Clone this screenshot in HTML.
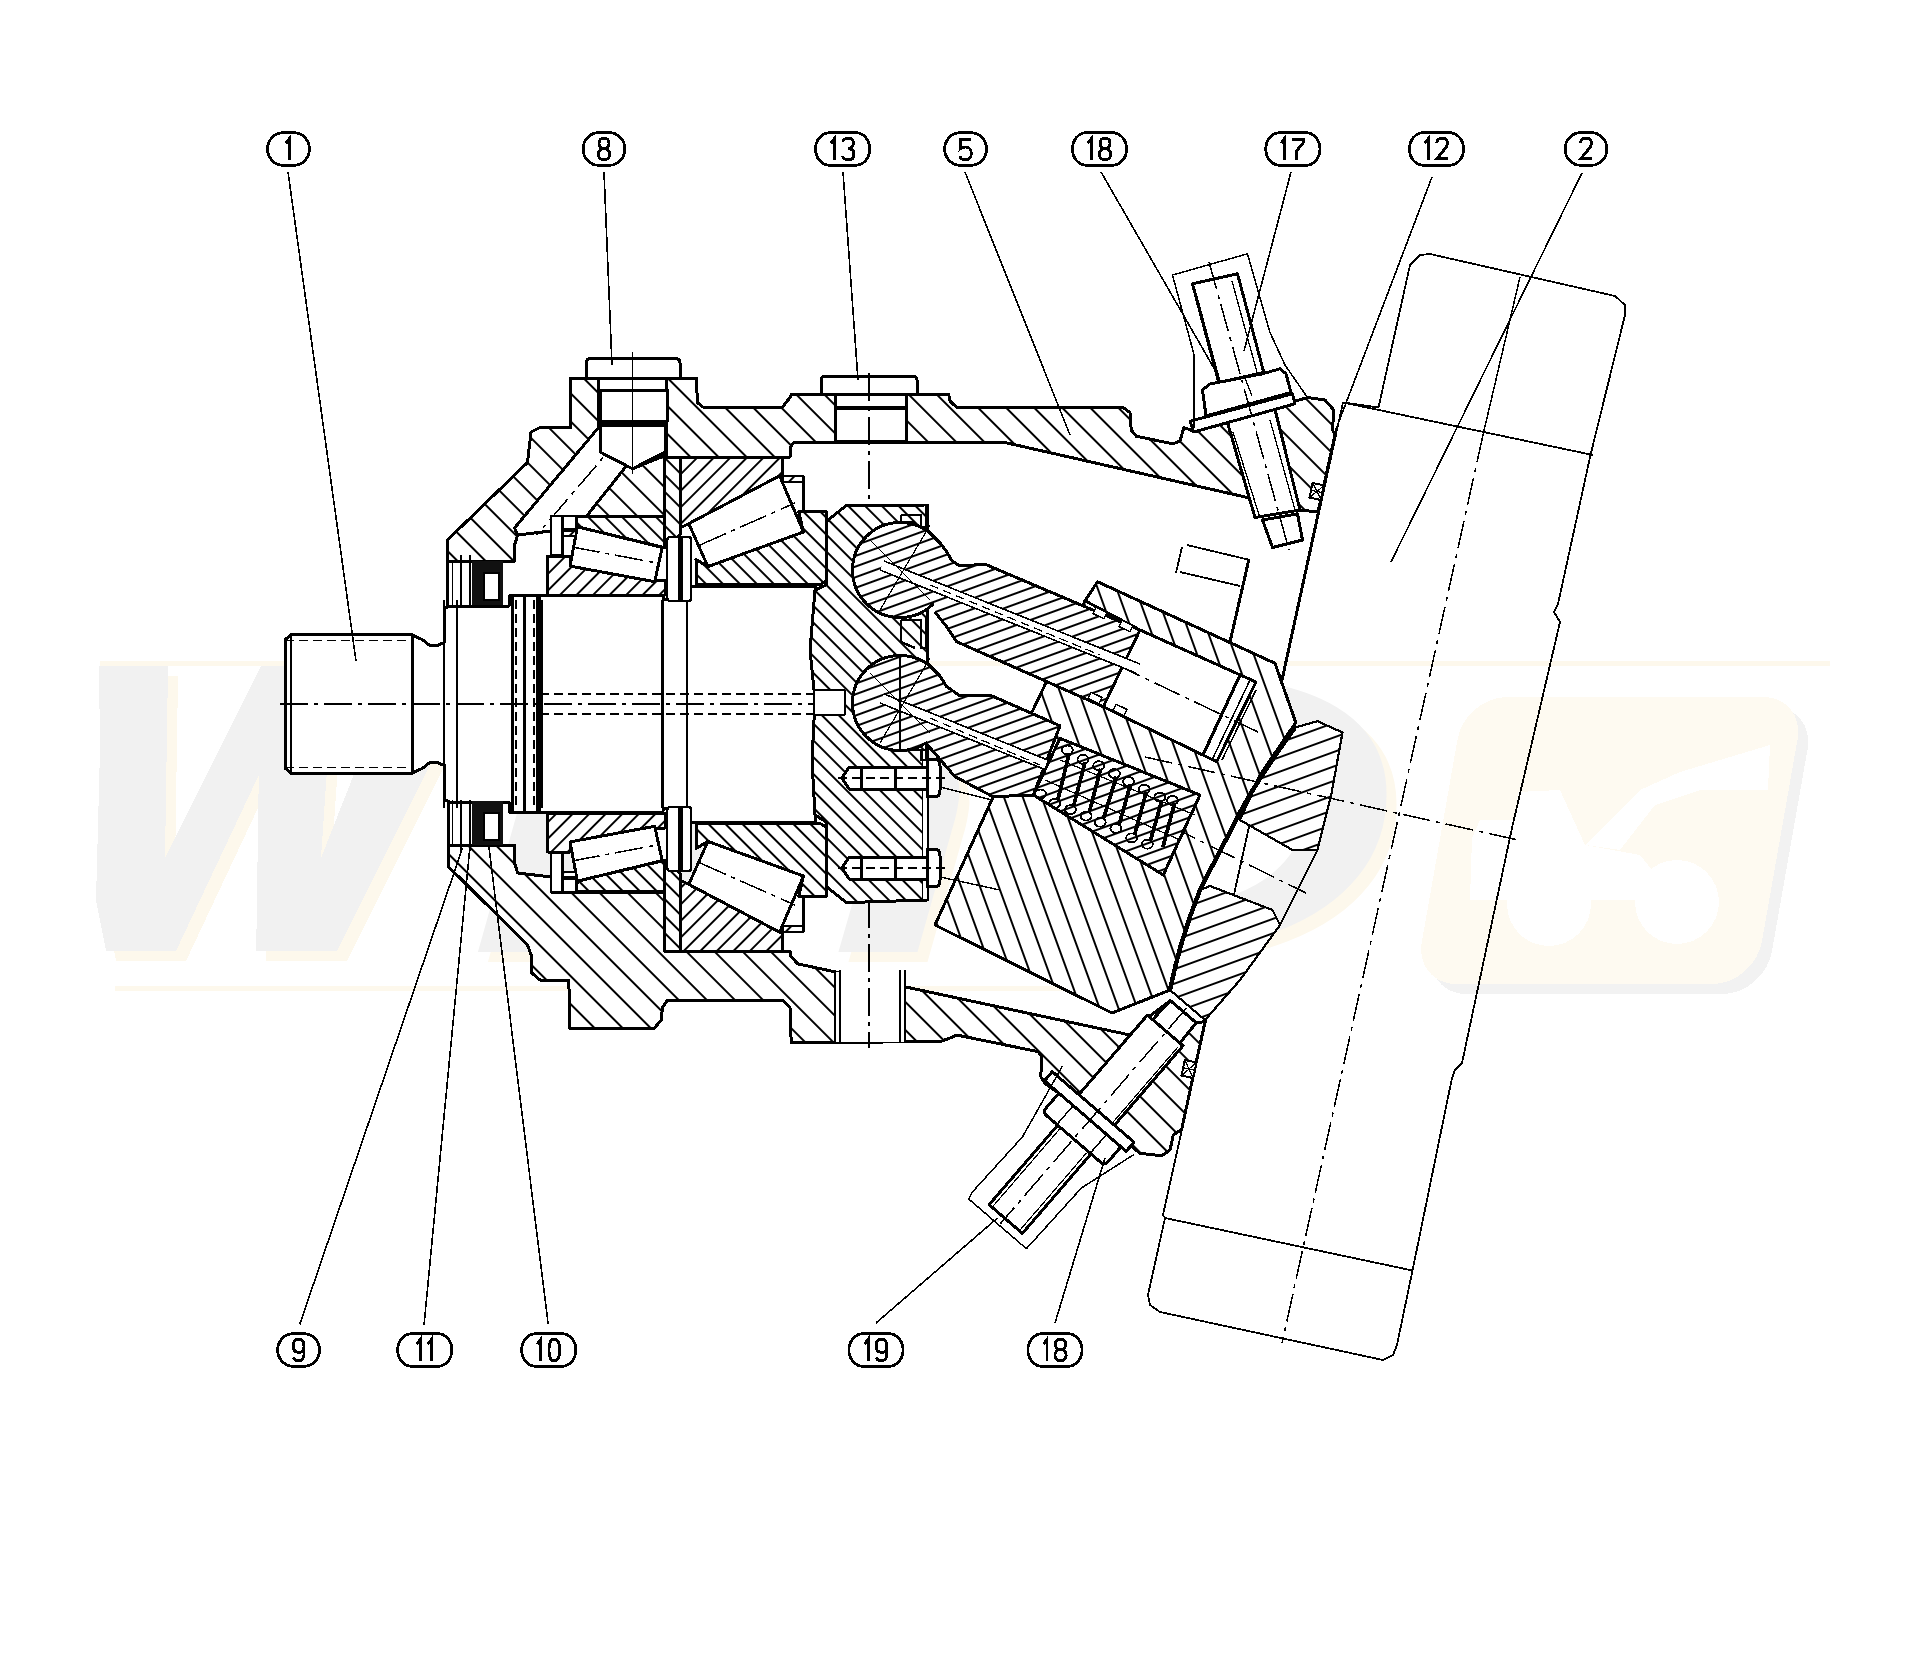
<!DOCTYPE html><html><head><meta charset="utf-8"><style>
html,body{margin:0;padding:0;background:#fff;}
svg{display:block;}
</style></head><body>
<svg width="1925" height="1656" viewBox="0 0 1925 1656" shape-rendering="crispEdges">
<defs>
<pattern id="hb" patternUnits="userSpaceOnUse" x="16.17" width="19.85" height="19.85" patternTransform="rotate(-45)"><rect width="19.85" height="19.85" fill="#fff"/><rect x="9.25" y="-1" width="1.35" height="21.85" fill="#000"/></pattern>
<pattern id="hbB" patternUnits="userSpaceOnUse" x="1.14" width="19.85" height="19.85" patternTransform="rotate(-45)"><rect width="19.85" height="19.85" fill="#fff"/><rect x="9.25" y="-1" width="1.35" height="21.85" fill="#000"/></pattern>
<pattern id="hs" patternUnits="userSpaceOnUse" x="3.5" width="11.7" height="11.7" patternTransform="rotate(45)"><rect width="11.7" height="11.7" fill="#fff"/><rect x="5.17" y="-1" width="1.35" height="13.7" fill="#000"/></pattern>
<pattern id="hs2" patternUnits="userSpaceOnUse" x="8.3" width="12.0" height="12.0" patternTransform="rotate(-45)"><rect width="12.0" height="12.0" fill="#fff"/><rect x="5.33" y="-1" width="1.35" height="14.0" fill="#000"/></pattern>
<pattern id="hcb" patternUnits="userSpaceOnUse" x="6.24" width="17.72" height="17.72" patternTransform="rotate(-20)"><rect width="17.72" height="17.72" fill="#fff"/><rect x="8.18" y="-1" width="1.35" height="19.72" fill="#000"/></pattern>
<pattern id="hp" patternUnits="userSpaceOnUse" x="0" width="10" height="10" patternTransform="rotate(70)"><rect width="10" height="10" fill="#fff"/><rect x="4.33" y="-1" width="1.35" height="12" fill="#000"/></pattern>
<pattern id="hpp" patternUnits="userSpaceOnUse" x="0" width="13.6" height="13.6" patternTransform="rotate(70)"><rect width="13.6" height="13.6" fill="#fff"/><rect x="6.12" y="-1" width="1.35" height="15.6" fill="#000"/></pattern>
<pattern id="hf" patternUnits="userSpaceOnUse" x="9.97" width="11.9" height="11.9" patternTransform="rotate(-45)"><rect width="11.9" height="11.9" fill="#fff"/><rect x="5.28" y="-1" width="1.35" height="13.9" fill="#000"/></pattern>
</defs>
<rect width="1925" height="1656" fill="#fff"/>
<g>
<line x1="100" y1="663" x2="1830" y2="663" stroke="#fdf8ec" stroke-width="5"/>
<line x1="115" y1="988" x2="1180" y2="988" stroke="#fdf8ec" stroke-width="5"/>
<polygon points="109.0,676.0 178.0,676.0 175.0,868.0 271.0,676.0 344.0,676.0 331.0,868.0 406.5,676.0 489.6,676.0 346.8,961.0 266.2,961.0 268.8,785.0 186.0,961.0 116.0,961.0 106.0,910.0 110.0,760.0" fill="#fdf8ec"/>
<polygon points="99.0,666.0 168.0,666.0 165.0,858.0 261.0,666.0 334.0,666.0 321.0,858.0 396.5,666.0 479.6,666.0 336.8,951.0 256.2,951.0 258.8,775.0 176.0,951.0 106.0,951.0 96.0,900.0 100.0,750.0" fill="#f1f1f1"/>
<text x="478" y="962" font-family="Liberation Sans" font-weight="bold" font-style="italic" font-size="400" fill="#fdf8ec" textLength="935" lengthAdjust="spacingAndGlyphs">inD</text>
<text x="468" y="952" font-family="Liberation Sans" font-weight="bold" font-style="italic" font-size="400" fill="#f1f1f1" textLength="935" lengthAdjust="spacingAndGlyphs">inD</text>
<rect x="1475" y="707" width="340" height="287" rx="42" fill="#f2f2f2" transform="translate(0,707) skewX(-10) translate(0,-707)"/>
<rect x="1465" y="697" width="340" height="287" rx="42" fill="#fefaf1" transform="translate(0,697) skewX(-10) translate(0,-697)"/>
<g fill="#fff">
<circle cx="1549" cy="904" r="42"/><circle cx="1677" cy="902" r="42"/>
<polygon points="1472,838 1480,820 1515,820 1518,792 1560,790 1585,845 1640,855 1660,880 1640,900 1470,900"/>
<polygon points="1585,845 1640,790 1680,772 1770,745 1768,790 1700,790 1655,805 1620,850"/>
</g>
</g>
<polygon points="1343.0,402.5 1378.5,407.5 1410.0,265.0 1420.0,255.0 1430.0,254.0 1615.0,296.0 1625.0,305.0 1625.0,315.0 1590.5,455.0 1558.0,604.0 1554.0,612.0 1560.0,622.0 1512.0,828.0 1462.0,1063.0 1455.0,1070.0 1452.0,1078.0 1412.5,1270.5 1397.0,1345.0 1393.0,1355.0 1383.0,1360.0 1160.0,1312.0 1150.0,1305.0 1148.0,1295.0 1165.0,1218.0 1163.0,1215.0" fill="none" stroke="#000" stroke-width="1.8" stroke-linejoin="round" />
<line x1="1343.0" y1="402.5" x2="1593.0" y2="455.0" stroke="#000" stroke-width="1.8" />
<line x1="1165.0" y1="1218.0" x2="1412.5" y2="1270.5" stroke="#000" stroke-width="1.8" />
<line x1="1520.0" y1="277.0" x2="1483.0" y2="435.0" stroke="#000" stroke-width="1.5" />
<line x1="1483.0" y1="435.0" x2="1282.0" y2="1343.0" stroke="#000" stroke-width="1.5" stroke-dasharray="28,6,4,6"/>
<polygon points="447.5,561.0 447.5,540.0 527.5,462.5 531.0,432.0 540.0,427.5 570.8,427.5 570.8,378.0 696.2,378.0 697.5,402.5 702.5,407.0 782.5,407.0 790.0,397.5 791.2,394.5 948.8,394.5 950.0,401.0 956.2,407.0 1122.5,407.0 1130.0,412.5 1131.2,430.0 1136.2,436.2 1172.5,443.8 1180.0,441.2 1183.8,427.5 1193.8,431.2 1307.5,397.5 1325.0,400.0 1333.8,410.0 1332.5,430.0 1335.0,435.0 1318.0,512.0 1300.0,510.0 1247.5,497.5 1005.0,442.5 793.8,442.5 790.0,447.5 790.0,457.0 664.0,457.0 664.0,516.6 551.0,516.6 551.0,531.0 517.7,535.0 514.5,545.0 514.5,561.0" fill="url(#hb)" stroke="#000" stroke-width="3.0" stroke-linejoin="round" />
<polygon points="448.8,845.0 448.8,867.0 527.5,945.0 531.2,955.0 531.2,972.5 540.0,980.0 568.8,980.0 570.0,1028.8 653.8,1028.8 661.2,1020.0 662.5,1007.5 667.5,1000.0 782.5,1000.0 790.0,1007.5 791.2,1042.5 940.0,1041.7 950.0,1038.0 956.7,1035.0 1038.3,1051.7 1041.7,1056.7 1040.8,1076.7 1045.0,1083.3 1130.0,1145.0 1140.0,1153.3 1161.7,1155.8 1170.0,1150.0 1173.3,1135.0 1181.7,1129.2 1205.0,1021.7 1196.0,1022.5 1170.0,1000.8 1145.8,1019.2 1130.0,1035.0 797.5,963.8 790.0,955.0 790.0,951.0 664.0,951.0 664.0,892.0 551.0,892.0 551.0,877.0 517.7,873.0 514.5,863.0 514.5,845.0" fill="url(#hbB)" stroke="#000" stroke-width="3.0" stroke-linejoin="round" />
<polygon points="598.8,378.0 666.2,378.0 666.2,455.0 632.5,468.8 598.8,452.0" fill="#fff" stroke="#000" stroke-width="3.0" stroke-linejoin="round" />
<polygon points="598.7,427.3 625.7,466.8 586.2,516.6 551.0,516.6 551.0,531.0 517.7,535.0 514.5,528.0" fill="#fff" stroke="#000" stroke-width="3.0" stroke-linejoin="round" />
<line x1="625.0" y1="432.0" x2="537.0" y2="535.0" stroke="#000" stroke-width="1.5" stroke-dasharray="28,6,4,6"/>
<path d="M586.25,378 L586.25,363 Q586.25,358.75 590,358.75 L676,358.75 Q680,358.75 680,363 L680,378 Z" fill="#fff" stroke="#000" stroke-width="3.0" stroke-linejoin="round" />
<polygon points="600.0,390.0 667.5,390.0 667.5,421.0 600.0,421.0" fill="#fff" stroke="#000" stroke-width="3.0" stroke-linejoin="round" />
<line x1="600.0" y1="423.0" x2="667.5" y2="423.0" stroke="#000" stroke-width="4" />
<polygon points="600.0,425.0 665.0,425.0 665.0,452.0 632.5,468.8 600.0,452.0" fill="#fff" stroke="#000" stroke-width="3.0" stroke-linejoin="round" />
<line x1="632.5" y1="352.0" x2="632.5" y2="474.0" stroke="#000" stroke-width="1.5" />
<polygon points="835.0,394.5 906.2,394.5 906.2,441.2 835.0,441.2" fill="#fff" stroke="#000" stroke-width="3.0" stroke-linejoin="round" />
<path d="M821.25,394.5 L821.25,380 Q821.25,376.25 825,376.25 L913,376.25 Q917,376.25 917,380 L917,394.5 Z" fill="#fff" stroke="#000" stroke-width="3.0" stroke-linejoin="round" />
<line x1="835.0" y1="407.5" x2="906.2" y2="407.5" stroke="#000" stroke-width="4" />
<line x1="869.2" y1="372.5" x2="869.2" y2="505.0" stroke="#000" stroke-width="1.5" stroke-dasharray="28,6,4,6"/>
<rect x="836" y="972" width="68" height="70" fill="#fff"/>
<line x1="835.0" y1="970.0" x2="835.0" y2="1042.5" stroke="#000" stroke-width="1.8" />
<line x1="840.0" y1="970.0" x2="840.0" y2="1042.5" stroke="#000" stroke-width="1.8" />
<line x1="900.0" y1="970.0" x2="900.0" y2="1042.5" stroke="#000" stroke-width="1.8" />
<line x1="905.0" y1="970.0" x2="905.0" y2="1042.5" stroke="#000" stroke-width="1.8" />
<line x1="869.2" y1="900.0" x2="869.2" y2="1048.0" stroke="#000" stroke-width="1.5" stroke-dasharray="28,6,4,6"/>
<polygon points="285.0,704.0 285.0,640.0 291.0,634.5 412.5,635.0 423.0,640.0 429.0,645.0 437.0,645.5 444.3,642.6 444.3,609.0 449.0,606.0 509.0,606.0 510.0,595.0 662.5,595.5 664.0,599.5 686.7,599.5 686.7,586.0 815.0,586.0 815.0,704.0 815.0,704.0 815.0,822.0 686.7,822.0 686.7,808.5 664.0,808.5 662.5,812.5 510.0,813.0 509.0,802.0 449.0,802.0 444.3,799.0 444.3,765.4 437.0,762.5 429.0,763.0 423.0,768.0 412.5,773.0 291.0,773.5 285.0,768.0 285.0,704.0" fill="#fff" stroke="#000" stroke-width="3.0" stroke-linejoin="round" />
<line x1="291.0" y1="634.5" x2="291.0" y2="773.5" stroke="#000" stroke-width="2.2" />
<line x1="412.5" y1="634.5" x2="412.5" y2="773.5" stroke="#000" stroke-width="2.2" />
<line x1="444.3" y1="600.0" x2="444.3" y2="808.0" stroke="#000" stroke-width="2.2" />
<line x1="457.2" y1="600.0" x2="457.2" y2="808.0" stroke="#000" stroke-width="2.2" />
<line x1="541.7" y1="600.0" x2="541.7" y2="808.0" stroke="#000" stroke-width="2.2" />
<line x1="662.5" y1="600.0" x2="662.5" y2="808.0" stroke="#000" stroke-width="2.2" />
<line x1="686.7" y1="600.0" x2="686.7" y2="808.0" stroke="#000" stroke-width="2.2" />
<line x1="815.0" y1="600.0" x2="815.0" y2="808.0" stroke="#000" stroke-width="2.2" />
<line x1="285.0" y1="640.5" x2="412.5" y2="640.5" stroke="#000" stroke-width="1.5" stroke-dasharray="9,5"/>
<line x1="285.0" y1="767.5" x2="412.5" y2="767.5" stroke="#000" stroke-width="1.5" stroke-dasharray="9,5"/>
<line x1="280.0" y1="704.0" x2="820.0" y2="704.0" stroke="#000" stroke-width="1.5" stroke-dasharray="28,6,4,6"/>
<line x1="540.0" y1="694.0" x2="845.0" y2="694.0" stroke="#000" stroke-width="1.5" stroke-dasharray="9,5"/>
<line x1="540.0" y1="714.0" x2="845.0" y2="714.0" stroke="#000" stroke-width="1.5" stroke-dasharray="9,5"/>
<line x1="512.5" y1="596.0" x2="512.5" y2="812.0" stroke="#000" stroke-width="3.4" />
<line x1="524.5" y1="596.0" x2="524.5" y2="812.0" stroke="#000" stroke-width="2.6" />
<line x1="538.5" y1="596.0" x2="538.5" y2="812.0" stroke="#000" stroke-width="4.2" />
<line x1="516.0" y1="600.0" x2="516.0" y2="808.0" stroke="#000" stroke-width="1.2" stroke-dasharray="9,5"/>
<line x1="534.0" y1="600.0" x2="534.0" y2="808.0" stroke="#000" stroke-width="1.2" stroke-dasharray="9,5"/>
<rect x="472" y="561" width="31" height="44" fill="#111"/>
<rect x="484" y="573" width="15" height="27" fill="#fff" stroke="#000" stroke-width="1.5"/>
<line x1="452.5" y1="561.0" x2="452.5" y2="606.0" stroke="#000" stroke-width="1.8" />
<line x1="461.2" y1="555.0" x2="461.2" y2="606.0" stroke="#000" stroke-width="1.8" />
<line x1="470.0" y1="555.0" x2="470.0" y2="606.0" stroke="#000" stroke-width="1.8" />
<rect x="472" y="801" width="31" height="44" fill="#111"/>
<rect x="484" y="813" width="15" height="27" fill="#fff" stroke="#000" stroke-width="1.5"/>
<line x1="452.5" y1="800.0" x2="452.5" y2="845.0" stroke="#000" stroke-width="1.8" />
<line x1="461.2" y1="800.0" x2="461.2" y2="851.0" stroke="#000" stroke-width="1.8" />
<line x1="470.0" y1="800.0" x2="470.0" y2="851.0" stroke="#000" stroke-width="1.8" />
<line x1="447.5" y1="540.0" x2="447.5" y2="607.0" stroke="#000" stroke-width="3.0" />
<line x1="448.8" y1="800.0" x2="448.8" y2="867.0" stroke="#000" stroke-width="3.0" />
<polygon points="576.0,516.6 664.0,516.6 664.0,547.5 577.4,526.8" fill="url(#hs2)" stroke="#000" stroke-width="3.0" stroke-linejoin="round" />
<polygon points="576.0,891.4 664.0,891.4 664.0,860.5 577.4,881.2" fill="url(#hs2)" stroke="#000" stroke-width="3.0" stroke-linejoin="round" />
<polygon points="547.5,556.0 570.0,556.0 570.0,566.0 654.0,580.0 665.0,580.0 665.0,595.0 547.5,595.0" fill="url(#hs)" stroke="#000" stroke-width="3.0" stroke-linejoin="round" />
<polygon points="547.5,852.0 570.0,852.0 570.0,842.0 654.0,828.0 665.0,828.0 665.0,813.0 547.5,813.0" fill="url(#hs)" stroke="#000" stroke-width="3.0" stroke-linejoin="round" />
<polygon points="577.4,526.8 662.2,547.4 654.7,581.7 570.0,566.1" fill="#fff" stroke="#000" stroke-width="3.0" stroke-linejoin="round" />
<polygon points="577.4,881.2 662.2,860.6 654.7,826.3 570.0,841.9" fill="#fff" stroke="#000" stroke-width="3.0" stroke-linejoin="round" />
<line x1="572.0" y1="547.0" x2="657.0" y2="563.0" stroke="#000" stroke-width="1.5" stroke-dasharray="28,6,4,6"/>
<line x1="572.0" y1="861.0" x2="657.0" y2="845.0" stroke="#000" stroke-width="1.5" stroke-dasharray="28,6,4,6"/>
<polygon points="664.0,457.0 680.0,457.0 680.0,535.0 664.0,548.0" fill="url(#hs2)" stroke="#000" stroke-width="3.0" stroke-linejoin="round" />
<polygon points="664.0,951.0 680.0,951.0 680.0,873.0 664.0,860.0" fill="url(#hs2)" stroke="#000" stroke-width="3.0" stroke-linejoin="round" />
<polygon points="680.0,457.0 782.5,457.0 782.5,475.8 779.6,475.8 688.8,523.6 680.0,528.0" fill="url(#hs)" stroke="#000" stroke-width="3.0" stroke-linejoin="round" />
<polygon points="680.0,951.0 782.5,951.0 782.5,932.2 779.6,932.2 688.8,884.4 680.0,880.0" fill="url(#hs)" stroke="#000" stroke-width="3.0" stroke-linejoin="round" />
<polygon points="696.0,559.5 707.9,566.6 803.5,532.0 798.7,511.7 826.2,511.7 826.2,581.0 820.0,584.6 696.0,584.6" fill="url(#hs2)" stroke="#000" stroke-width="3.0" stroke-linejoin="round" />
<polygon points="696.0,848.5 707.9,841.4 803.5,876.0 798.7,896.3 826.2,896.3 826.2,827.0 820.0,823.4 696.0,823.4" fill="url(#hs2)" stroke="#000" stroke-width="3.0" stroke-linejoin="round" />
<polygon points="688.8,523.6 779.6,475.8 803.5,532.0 707.9,566.6" fill="#fff" stroke="#000" stroke-width="3.0" stroke-linejoin="round" />
<polygon points="688.8,884.4 779.6,932.2 803.5,876.0 707.9,841.4" fill="#fff" stroke="#000" stroke-width="3.0" stroke-linejoin="round" />
<line x1="700.0" y1="545.0" x2="795.0" y2="503.0" stroke="#000" stroke-width="1.5" stroke-dasharray="28,6,4,6"/>
<line x1="700.0" y1="863.0" x2="795.0" y2="905.0" stroke="#000" stroke-width="1.5" stroke-dasharray="28,6,4,6"/>
<rect x="667.3" y="537" width="23.9" height="64" fill="#fff" stroke="#000" stroke-width="2.2" rx="3"/>
<line x1="680.4" y1="537.0" x2="680.4" y2="601.0" stroke="#000" stroke-width="4.5" />
<rect x="667.3" y="807" width="23.9" height="64" fill="#fff" stroke="#000" stroke-width="2.2" rx="3"/>
<line x1="680.4" y1="807.0" x2="680.4" y2="871.0" stroke="#000" stroke-width="4.5" />
<polygon points="550.6,516.2 562.5,516.2 562.5,554.9 550.6,554.9" fill="#fff" stroke="#000" stroke-width="2.2" stroke-linejoin="round" />
<polygon points="550.6,891.8 562.5,891.8 562.5,853.1 550.6,853.1" fill="#fff" stroke="#000" stroke-width="2.2" stroke-linejoin="round" />
<polygon points="562.5,516.2 576.0,516.2 576.0,529.0 562.5,529.0" fill="#fff" stroke="#000" stroke-width="2.2" stroke-linejoin="round" />
<polygon points="562.5,891.8 576.0,891.8 576.0,879.0 562.5,879.0" fill="#fff" stroke="#000" stroke-width="2.2" stroke-linejoin="round" />
<polygon points="563.0,530.6 576.0,530.6 576.0,536.2 563.0,536.2" fill="url(#hs)" stroke="#000" stroke-width="2" stroke-linejoin="round" />
<polygon points="563.0,877.4 576.0,877.4 576.0,871.8 563.0,871.8" fill="url(#hs)" stroke="#000" stroke-width="2" stroke-linejoin="round" />
<polygon points="782.5,475.8 803.5,475.8 803.5,482.0 782.5,482.0" fill="url(#hs)" stroke="#000" stroke-width="2" stroke-linejoin="round" />
<polygon points="782.5,932.2 803.5,932.2 803.5,926.0 782.5,926.0" fill="url(#hs)" stroke="#000" stroke-width="2" stroke-linejoin="round" />
<line x1="803.5" y1="475.8" x2="803.5" y2="511.7" stroke="#000" stroke-width="2.4" />
<line x1="803.5" y1="932.2" x2="803.5" y2="896.3" stroke="#000" stroke-width="2.4" />
<polygon points="826.2,521.5 846.3,505.4 927.5,505.0 927.5,900.0 846.3,902.6 826.2,886.5 826.2,822.0 815.0,815.0 812.0,760.0 815.0,700.0 810.0,650.0 815.0,590.0 826.2,585.0" fill="url(#hf)" stroke="#000" stroke-width="3.0" stroke-linejoin="round" />
<rect x="815" y="690" width="30" height="25" fill="#fff"/>
<line x1="815.0" y1="690.0" x2="845.0" y2="690.0" stroke="#000" stroke-width="1.8" />
<line x1="815.0" y1="715.0" x2="845.0" y2="715.0" stroke="#000" stroke-width="1.8" />
<line x1="845.0" y1="690.0" x2="845.0" y2="715.0" stroke="#000" stroke-width="1.8" />
<polygon points="922.5,750.0 927.5,750.0 927.5,900.0 922.5,900.0" fill="#fff" stroke="#000" stroke-width="1.8" stroke-linejoin="round" />
<polyline points="901.0,515.0 921.0,515.0 921.0,527.0 926.0,527.0 926.0,506.0" fill="none" stroke="#000" stroke-width="2.4" stroke-linejoin="round" />
<polyline points="901.0,620.0 921.0,620.0 921.0,648.0 926.0,648.0 926.0,616.0" fill="none" stroke="#000" stroke-width="2.4" stroke-linejoin="round" />
<polyline points="906.0,750.0 921.0,750.0 921.0,760.0 926.0,760.0 926.0,745.0" fill="none" stroke="#000" stroke-width="2.4" stroke-linejoin="round" />
<polyline points="901.0,515.0 901.0,522.0 915.0,522.0" fill="none" stroke="#000" stroke-width="2.4" stroke-linejoin="round" />
<polyline points="901.0,620.0 901.0,642.0 915.0,648.0" fill="none" stroke="#000" stroke-width="2.4" stroke-linejoin="round" />
<polygon points="842.0,778.0 849.0,767.0 927.5,767.0 927.5,789.0 849.0,789.0" fill="#fff" stroke="#000" stroke-width="3.0" stroke-linejoin="round" />
<path d="M927.5,759.5 L936,759.5 Q940,759.5 940,766 L940,790 Q940,796.5 936,796.5 L927.5,796.5 Z" fill="#fff" stroke="#000" stroke-width="3.0" stroke-linejoin="round" />
<line x1="861.0" y1="767.0" x2="861.0" y2="789.0" stroke="#000" stroke-width="3" />
<line x1="895.0" y1="767.0" x2="895.0" y2="789.0" stroke="#000" stroke-width="3" />
<line x1="838.0" y1="778.0" x2="945.0" y2="778.0" stroke="#000" stroke-width="1.5" stroke-dasharray="9,5"/>
<polygon points="842.0,868.0 849.0,857.0 927.5,857.0 927.5,879.0 849.0,879.0" fill="#fff" stroke="#000" stroke-width="3.0" stroke-linejoin="round" />
<path d="M927.5,849.5 L936,849.5 Q940,849.5 940,856 L940,880 Q940,886.5 936,886.5 L927.5,886.5 Z" fill="#fff" stroke="#000" stroke-width="3.0" stroke-linejoin="round" />
<line x1="861.0" y1="857.0" x2="861.0" y2="879.0" stroke="#000" stroke-width="3" />
<line x1="895.0" y1="857.0" x2="895.0" y2="879.0" stroke="#000" stroke-width="3" />
<line x1="838.0" y1="868.0" x2="945.0" y2="868.0" stroke="#000" stroke-width="1.5" stroke-dasharray="9,5"/>
<polygon points="1097.5,581.7 1275.0,663.3 1295.8,722.5 1262.0,772.0 1235.0,822.5 1200.0,890.0 1180.0,945.0 1170.0,990.0 1112.0,1013.0 935.0,925.0 992.5,798.3 1033.0,710.0 1085.0,600.8" fill="url(#hcb)" stroke="#000" stroke-width="3.0" stroke-linejoin="round" />
<polygon points="1140.0,630.0 1256.0,682.0 1216.7,761.7 1103.3,706.7" fill="#fff" stroke="#000" stroke-width="3.0" stroke-linejoin="round" />
<line x1="1240.0" y1="675.0" x2="1203.0" y2="755.0" stroke="#000" stroke-width="3.2" />
<line x1="1250.0" y1="680.0" x2="1213.0" y2="758.0" stroke="#000" stroke-width="1.5" />
<line x1="1256.0" y1="690.0" x2="1222.0" y2="760.0" stroke="#000" stroke-width="1.5" />
<line x1="1085.0" y1="600.8" x2="1140.0" y2="630.0" stroke="#000" stroke-width="3.0" />
<polygon points="1295.0,727.5 1317.5,721.2 1342.5,732.5 1331.2,795.0 1317.5,850.0 1292.5,850.0 1240.0,820.0 1262.0,772.0" fill="url(#hpp)" stroke="#000" stroke-width="2.2" stroke-linejoin="round" />
<polygon points="1210.0,886.0 1272.5,910.0 1280.0,925.0 1240.0,980.0 1205.0,1020.0 1170.0,990.0 1180.0,945.0 1200.0,890.0" fill="url(#hpp)" stroke="#000" stroke-width="2.2" stroke-linejoin="round" />
<line x1="1317.5" y1="850.0" x2="1280.0" y2="925.0" stroke="#000" stroke-width="2.0" />
<path d="M1295,727.5 Q1250,790 1235,822.5 Q1210,870 1200,890 Q1180,940 1170,990" fill="none" stroke="#000" stroke-width="4.5" stroke-linejoin="round" />
<line x1="1075.0" y1="645.0" x2="1258.0" y2="732.0" stroke="#000" stroke-width="1.5" stroke-dasharray="28,6,4,6"/>
<line x1="1145.0" y1="757.0" x2="1518.0" y2="840.0" stroke="#000" stroke-width="1.5" stroke-dasharray="28,6,4,6"/>
<line x1="1170.0" y1="826.0" x2="1306.0" y2="893.0" stroke="#000" stroke-width="1.5" stroke-dasharray="28,6,4,6"/>
<circle cx="900" cy="570" r="47.5" fill="url(#hp)" stroke="#000" stroke-width="3"/>
<polygon points="928.0,531.0 940.0,543.0 946.7,551.7 952.0,561.0 960.0,566.0 985.0,564.2 1140.0,630.0 1103.3,706.7 956.7,641.7 946.7,626.7 935.0,612.0" fill="url(#hp)" stroke="#000" stroke-width="0" stroke-linejoin="round" />
<polyline points="928.0,531.0 940.0,543.0 946.7,551.7 952.0,561.0 960.0,566.0 985.0,564.2 1140.0,630.0 1103.3,706.7 956.7,641.7 946.7,626.7 935.0,612.0" fill="none" stroke="#000" stroke-width="3.0" stroke-linejoin="round" />
<rect x="886" y="549" width="50" height="45" fill="url(#hp)"/>
<polygon points="884.0,561.0 1140.0,664.0 1136.0,673.0 880.0,570.0" fill="#fff" stroke="#000" stroke-width="0" stroke-linejoin="round" />
<line x1="884.0" y1="561.0" x2="1140.0" y2="664.0" stroke="#000" stroke-width="1.6" />
<line x1="880.0" y1="570.0" x2="1136.0" y2="673.0" stroke="#000" stroke-width="1.6" />
<line x1="930.0" y1="585.0" x2="1100.0" y2="655.0" stroke="#000" stroke-width="1.2" stroke-dasharray="9,5"/>
<line x1="870.0" y1="540.0" x2="930.0" y2="600.0" stroke="#000" stroke-width="1.2" />
<line x1="930.0" y1="525.0" x2="880.0" y2="610.0" stroke="#000" stroke-width="1.2" />
<circle cx="900" cy="703" r="47.5" fill="url(#hp)" stroke="#000" stroke-width="3"/>
<polygon points="928.0,664.0 940.0,676.0 946.7,686.7 960.0,695.8 991.7,695.8 1060.0,725.8 1033.3,795.0 993.0,796.7 955.0,776.7 925.0,742.0" fill="url(#hp)" stroke="#000" stroke-width="0" stroke-linejoin="round" />
<polyline points="928.0,664.0 940.0,676.0 946.7,686.7 960.0,695.8 991.7,695.8 1060.0,725.8 1033.3,795.0 993.0,796.7 955.0,776.7 925.0,742.0" fill="none" stroke="#000" stroke-width="3.0" stroke-linejoin="round" />
<rect x="886" y="682" width="50" height="45" fill="url(#hp)"/>
<polygon points="884.0,694.0 1060.0,765.0 1056.0,774.0 880.0,703.0" fill="#fff" stroke="#000" stroke-width="0" stroke-linejoin="round" />
<line x1="884.0" y1="694.0" x2="1060.0" y2="765.0" stroke="#000" stroke-width="1.6" />
<line x1="880.0" y1="703.0" x2="1056.0" y2="774.0" stroke="#000" stroke-width="1.6" />
<line x1="930.0" y1="718.0" x2="1040.0" y2="765.0" stroke="#000" stroke-width="1.2" stroke-dasharray="9,5"/>
<line x1="870.0" y1="673.0" x2="930.0" y2="733.0" stroke="#000" stroke-width="1.2" />
<line x1="930.0" y1="658.0" x2="880.0" y2="743.0" stroke="#000" stroke-width="1.2" />
<line x1="900.0" y1="655.0" x2="900.0" y2="750.0" stroke="#000" stroke-width="1.2" />
<polygon points="1060.0,738.3 1200.0,795.0 1163.3,875.0 1033.3,795.0" fill="url(#hp)" stroke="#000" stroke-width="3.0" stroke-linejoin="round" />
<ellipse cx="1067.3" cy="750.0" rx="5.5" ry="4.5" fill="none" stroke="#000" stroke-width="1.8"/>
<ellipse cx="1083.0" cy="759.4" rx="5.5" ry="4.5" fill="none" stroke="#000" stroke-width="1.8"/>
<ellipse cx="1098.7" cy="765.7" rx="5.5" ry="4.5" fill="none" stroke="#000" stroke-width="1.8"/>
<ellipse cx="1114.4" cy="773.6" rx="5.5" ry="4.5" fill="none" stroke="#000" stroke-width="1.8"/>
<ellipse cx="1128.5" cy="781.4" rx="5.5" ry="4.5" fill="none" stroke="#000" stroke-width="1.8"/>
<ellipse cx="1144.2" cy="789.3" rx="5.5" ry="4.5" fill="none" stroke="#000" stroke-width="1.8"/>
<ellipse cx="1159.9" cy="797.1" rx="5.5" ry="4.5" fill="none" stroke="#000" stroke-width="1.8"/>
<ellipse cx="1172.5" cy="800.3" rx="5.5" ry="4.5" fill="none" stroke="#000" stroke-width="1.8"/>
<ellipse cx="1040.6" cy="794.0" rx="5.5" ry="4.5" fill="none" stroke="#000" stroke-width="1.8"/>
<ellipse cx="1054.7" cy="803.4" rx="5.5" ry="4.5" fill="none" stroke="#000" stroke-width="1.8"/>
<ellipse cx="1070.4" cy="809.7" rx="5.5" ry="4.5" fill="none" stroke="#000" stroke-width="1.8"/>
<ellipse cx="1086.1" cy="816.0" rx="5.5" ry="4.5" fill="none" stroke="#000" stroke-width="1.8"/>
<ellipse cx="1100.2" cy="822.2" rx="5.5" ry="4.5" fill="none" stroke="#000" stroke-width="1.8"/>
<ellipse cx="1115.9" cy="828.5" rx="5.5" ry="4.5" fill="none" stroke="#000" stroke-width="1.8"/>
<ellipse cx="1131.6" cy="837.9" rx="5.5" ry="4.5" fill="none" stroke="#000" stroke-width="1.8"/>
<ellipse cx="1147.3" cy="844.2" rx="5.5" ry="4.5" fill="none" stroke="#000" stroke-width="1.8"/>
<line x1="1069.3" y1="753.0" x2="1057.7" y2="800.4" stroke="#000" stroke-width="3.8" />
<line x1="1085.0" y1="762.4" x2="1073.4" y2="806.7" stroke="#000" stroke-width="3.8" />
<line x1="1100.7" y1="768.7" x2="1089.1" y2="813.0" stroke="#000" stroke-width="3.8" />
<line x1="1116.4" y1="776.6" x2="1103.2" y2="819.2" stroke="#000" stroke-width="3.8" />
<line x1="1130.5" y1="784.4" x2="1118.9" y2="825.5" stroke="#000" stroke-width="3.8" />
<line x1="1146.2" y1="792.3" x2="1134.6" y2="834.9" stroke="#000" stroke-width="3.8" />
<line x1="1161.9" y1="800.1" x2="1150.3" y2="841.2" stroke="#000" stroke-width="3.8" />
<line x1="1174.5" y1="803.3" x2="1163.0" y2="847.0" stroke="#000" stroke-width="3.8" />
<line x1="1060.0" y1="760.0" x2="1195.0" y2="815.0" stroke="#000" stroke-width="1.2" />
<line x1="1045.0" y1="780.0" x2="1180.0" y2="840.0" stroke="#000" stroke-width="1.2" />
<line x1="940.0" y1="787.0" x2="992.0" y2="800.0" stroke="#000" stroke-width="1.4" />
<line x1="940.0" y1="877.0" x2="1000.0" y2="890.0" stroke="#000" stroke-width="1.4" />
<rect x="1094" y="609.5" width="12" height="7" fill="#fff" stroke="#000" stroke-width="1.5" transform="rotate(25 1100 613)"/>
<rect x="1120" y="622.5" width="12" height="7" fill="#fff" stroke="#000" stroke-width="1.5" transform="rotate(25 1126 626)"/>
<rect x="1089" y="694.5" width="12" height="7" fill="#fff" stroke="#000" stroke-width="1.5" transform="rotate(25 1095 698)"/>
<rect x="1114" y="706.5" width="12" height="7" fill="#fff" stroke="#000" stroke-width="1.5" transform="rotate(25 1120 710)"/>
<polygon points="1192.5,283.8 1237.5,273.8 1263.8,372.5 1218.8,382.5" fill="#fff" stroke="#000" stroke-width="3.0" stroke-linejoin="round" />
<line x1="1196.0" y1="293.0" x2="1221.0" y2="385.0" stroke="#000" stroke-width="1.3" />
<line x1="1232.0" y1="281.0" x2="1258.0" y2="376.0" stroke="#000" stroke-width="1.3" />
<polygon points="1202.5,390.0 1210.0,384.0 1262.5,373.8 1280.0,368.8 1286.0,373.8 1291.0,392.5 1206.0,416.0" fill="#fff" stroke="#000" stroke-width="3.0" stroke-linejoin="round" />
<line x1="1245.0" y1="378.0" x2="1252.0" y2="396.0" stroke="#000" stroke-width="1.3" />
<polygon points="1190.0,421.2 1292.5,393.8 1295.0,403.8 1193.8,432.0" fill="#fff" stroke="#000" stroke-width="3.0" stroke-linejoin="round" />
<polygon points="1227.5,422.6 1275.0,409.4 1300.0,510.0 1255.0,517.5" fill="#fff" stroke="#000" stroke-width="3.0" stroke-linejoin="round" />
<line x1="1233.0" y1="432.0" x2="1259.0" y2="515.0" stroke="#000" stroke-width="1.3" />
<line x1="1270.0" y1="420.0" x2="1295.0" y2="510.0" stroke="#000" stroke-width="1.3" />
<polygon points="1262.5,520.0 1297.5,513.8 1302.5,540.0 1272.5,547.5" fill="#fff" stroke="#000" stroke-width="3.0" stroke-linejoin="round" />
<line x1="1209.0" y1="262.0" x2="1289.0" y2="550.0" stroke="#000" stroke-width="1.5" stroke-dasharray="28,6,4,6"/>
<polyline points="1193.8,427.5 1193.8,353.8 1172.5,275.0 1247.5,253.8 1270.0,332.5 1285.0,365.0 1307.5,397.5" fill="none" stroke="#000" stroke-width="1.5" stroke-linejoin="round" />
<g transform="rotate(12 1317 491)"><rect x="1311" y="484" width="12" height="15" fill="#fff" stroke="#000" stroke-width="2"/><path d="M1311,484 L1323,499 M1323,484 L1311,499 M1311,491.5 L1323,491.5" stroke="#000" stroke-width="1.2"/></g>
<polygon points="1170.4,1000.6 1196.2,1022.8 1179.9,1043.1 1152.7,1019.6" fill="#fff" stroke="#000" stroke-width="3.0" stroke-linejoin="round" />
<polygon points="1147.4,1015.1 1183.0,1045.8 1114.4,1125.3 1078.8,1094.6" fill="#fff" stroke="#000" stroke-width="3.0" stroke-linejoin="round" />
<line x1="1178.1" y1="1046.8" x2="1112.1" y2="1123.3" stroke="#000" stroke-width="1.2" />
<polygon points="1052.3,1071.7 1134.1,1142.2 1126.2,1151.3 1044.5,1080.8" fill="#fff" stroke="#000" stroke-width="3.0" stroke-linejoin="round" />
<path d="M1058.9,1093.2 L1120.9,1146.8 L1107.9,1161.9 Q1104.6,1165.7 1100.8,1162.4 L1046.3,1115.4 Q1042.5,1112.1 1045.8,1108.3 L1058.9,1093.2 Z" fill="#fff" stroke="#000" stroke-width="3.0" stroke-linejoin="round" />
<line x1="1073.2" y1="1105.6" x2="1056.9" y2="1124.5" stroke="#000" stroke-width="1.5" />
<line x1="1106.6" y1="1134.4" x2="1090.2" y2="1153.3" stroke="#000" stroke-width="1.5" />
<polygon points="1057.7,1125.2 1091.0,1153.9 1022.4,1233.4 989.1,1204.7" fill="#fff" stroke="#000" stroke-width="3.0" stroke-linejoin="round" />
<line x1="1059.4" y1="1129.3" x2="992.1" y2="1207.3" stroke="#000" stroke-width="1.2" />
<line x1="1086.6" y1="1152.8" x2="1019.4" y2="1230.8" stroke="#000" stroke-width="1.2" />
<line x1="1186.6" y1="1007.9" x2="1000.4" y2="1223.7" stroke="#000" stroke-width="1.5" stroke-dasharray="28,6,4,6"/>
<polyline points="1062.5,1066.0 1022.4,1137.0 971.9,1192.5 968.8,1199.1 1026.4,1248.7 1081.4,1188.0 1134.3,1154.3" fill="none" stroke="#000" stroke-width="1.5" stroke-linejoin="round" />
<g transform="rotate(12 1189 1069)"><rect x="1183" y="1061" width="12" height="16" fill="#fff" stroke="#000" stroke-width="2"/><path d="M1183,1061 L1195,1077 M1195,1061 L1183,1077 M1183,1069 L1195,1069" stroke="#000" stroke-width="1.2"/></g>
<polyline points="1182.0,547.0 1176.0,573.0" fill="none" stroke="#000" stroke-width="1.8" stroke-linejoin="round" />
<line x1="1187.0" y1="545.0" x2="1250.0" y2="560.0" stroke="#000" stroke-width="1.8" />
<line x1="1180.0" y1="572.0" x2="1240.0" y2="586.0" stroke="#000" stroke-width="1.8" />
<line x1="1249.0" y1="559.0" x2="1230.0" y2="642.0" stroke="#000" stroke-width="3" />
<line x1="1336.0" y1="432.0" x2="1282.0" y2="680.0" stroke="#000" stroke-width="3" />
<line x1="288.0" y1="172.0" x2="356.0" y2="661.0" stroke="#000" stroke-width="1.6" />
<line x1="604.0" y1="172.0" x2="612.0" y2="365.0" stroke="#000" stroke-width="1.6" />
<line x1="843.0" y1="172.0" x2="858.0" y2="380.0" stroke="#000" stroke-width="1.6" />
<line x1="965.0" y1="172.0" x2="1070.0" y2="435.0" stroke="#000" stroke-width="1.6" />
<line x1="1101.0" y1="172.0" x2="1215.0" y2="370.0" stroke="#000" stroke-width="1.6" />
<line x1="1291.0" y1="172.0" x2="1244.0" y2="351.0" stroke="#000" stroke-width="1.6" />
<line x1="1432.0" y1="177.0" x2="1335.0" y2="432.0" stroke="#000" stroke-width="1.6" />
<line x1="1582.0" y1="173.0" x2="1391.0" y2="562.0" stroke="#000" stroke-width="1.6" />
<line x1="299.7" y1="1324.4" x2="462.5" y2="848.0" stroke="#000" stroke-width="1.6" />
<line x1="424.0" y1="1325.3" x2="470.0" y2="846.0" stroke="#000" stroke-width="1.6" />
<line x1="548.2" y1="1324.4" x2="488.8" y2="846.0" stroke="#000" stroke-width="1.6" />
<line x1="876.0" y1="1323.0" x2="997.5" y2="1218.0" stroke="#000" stroke-width="1.6" />
<line x1="1055.0" y1="1323.0" x2="1105.0" y2="1158.0" stroke="#000" stroke-width="1.6" />
<rect x="267.6" y="132.7" width="41.8" height="32.6" rx="15.5" ry="16.3" fill="#fff" stroke="#000" stroke-width="2.8"/>
<path d="M0,5.2 L3.6,0.3 L3.6,22" transform="translate(286.00,138.00)" fill="none" stroke="#000" stroke-width="2.9" stroke-linecap="butt" stroke-linejoin="miter"/>
<rect x="583.1" y="132.7" width="41.8" height="32.6" rx="15.5" ry="16.3" fill="#fff" stroke="#000" stroke-width="2.8"/>
<path d="M6,10.6 C2.8,10.6 1,8.8 1,5.4 C1,2.2 3,0.2 6,0.2 C9,0.2 11,2.2 11,5.4 C11,8.8 9.2,10.6 6,10.6 C2.4,10.6 0.4,13 0.4,16.2 C0.4,19.6 2.6,21.8 6,21.8 C9.4,21.8 11.6,19.6 11.6,16.2 C11.6,13 9.6,10.6 6,10.6 Z" transform="translate(598.00,138.00)" fill="none" stroke="#000" stroke-width="2.9" stroke-linecap="butt" stroke-linejoin="miter"/>
<rect x="815.5" y="132.7" width="54.2" height="32.6" rx="14" ry="16.3" fill="#fff" stroke="#000" stroke-width="2.8"/>
<path d="M0,5.2 L3.6,0.3 L3.6,22" transform="translate(831.05,138.00)" fill="none" stroke="#000" stroke-width="2.9" stroke-linecap="butt" stroke-linejoin="miter"/>
<path d="M0.6,3.8 C1.4,1.2 3.4,0.2 6,0.2 C9.4,0.2 11.2,2.2 11.2,5.4 C11.2,8.4 9.2,10.4 5.4,10.4 M5.4,10.4 C9.6,10.4 11.8,12.8 11.8,16.2 C11.8,20 9.4,21.8 6,21.8 C3.2,21.8 1.2,20.8 0.4,18" transform="translate(842.15,138.00)" fill="none" stroke="#000" stroke-width="2.9" stroke-linecap="butt" stroke-linejoin="miter"/>
<rect x="944.7" y="132.7" width="41.8" height="32.6" rx="15.5" ry="16.3" fill="#fff" stroke="#000" stroke-width="2.8"/>
<path d="M11.6,1.4 L1.4,1.4 L0.8,10.8 C2.2,9.6 4,9 6.2,9 C9.8,9 12,11.6 12,15.4 C12,19.6 9.4,21.8 6,21.8 C3.2,21.8 1.2,20.6 0.4,18.4" transform="translate(959.35,138.00)" fill="none" stroke="#000" stroke-width="2.9" stroke-linecap="butt" stroke-linejoin="miter"/>
<rect x="1072.4" y="132.7" width="54.2" height="32.6" rx="14" ry="16.3" fill="#fff" stroke="#000" stroke-width="2.8"/>
<path d="M0,5.2 L3.6,0.3 L3.6,22" transform="translate(1087.95,138.00)" fill="none" stroke="#000" stroke-width="2.9" stroke-linecap="butt" stroke-linejoin="miter"/>
<path d="M6,10.6 C2.8,10.6 1,8.8 1,5.4 C1,2.2 3,0.2 6,0.2 C9,0.2 11,2.2 11,5.4 C11,8.8 9.2,10.6 6,10.6 C2.4,10.6 0.4,13 0.4,16.2 C0.4,19.6 2.6,21.8 6,21.8 C9.4,21.8 11.6,19.6 11.6,16.2 C11.6,13 9.6,10.6 6,10.6 Z" transform="translate(1099.05,138.00)" fill="none" stroke="#000" stroke-width="2.9" stroke-linecap="butt" stroke-linejoin="miter"/>
<rect x="1265.8000000000002" y="132.7" width="54.2" height="32.6" rx="14" ry="16.3" fill="#fff" stroke="#000" stroke-width="2.8"/>
<path d="M0,5.2 L3.6,0.3 L3.6,22" transform="translate(1281.10,138.00)" fill="none" stroke="#000" stroke-width="2.9" stroke-linecap="butt" stroke-linejoin="miter"/>
<path d="M0,1.4 L11.6,1.4 L11.6,4 L4,13.4 L4,22" transform="translate(1292.20,138.00)" fill="none" stroke="#000" stroke-width="2.9" stroke-linecap="butt" stroke-linejoin="miter"/>
<rect x="1409.4" y="132.7" width="54.2" height="32.6" rx="14" ry="16.3" fill="#fff" stroke="#000" stroke-width="2.8"/>
<path d="M0,5.2 L3.6,0.3 L3.6,22" transform="translate(1424.95,138.00)" fill="none" stroke="#000" stroke-width="2.9" stroke-linecap="butt" stroke-linejoin="miter"/>
<path d="M0.6,5.2 C0.8,1.8 3,0.2 6,0.2 C9.2,0.2 11.4,2 11.4,5.4 C11.4,8 10.2,9.4 8.8,10.9 L0.8,20.7 L11.8,20.7" transform="translate(1436.05,138.00)" fill="none" stroke="#000" stroke-width="2.9" stroke-linecap="butt" stroke-linejoin="miter"/>
<rect x="1565.1" y="132.7" width="41.8" height="32.6" rx="15.5" ry="16.3" fill="#fff" stroke="#000" stroke-width="2.8"/>
<path d="M0.6,5.2 C0.8,1.8 3,0.2 6,0.2 C9.2,0.2 11.4,2 11.4,5.4 C11.4,8 10.2,9.4 8.8,10.9 L0.8,20.7 L11.8,20.7" transform="translate(1580.00,138.00)" fill="none" stroke="#000" stroke-width="2.9" stroke-linecap="butt" stroke-linejoin="miter"/>
<rect x="277.70000000000005" y="1333.7" width="41.8" height="32.6" rx="15.5" ry="16.3" fill="#fff" stroke="#000" stroke-width="2.8"/>
<path d="M11.4,7.6 C11.4,11.4 9.2,13.4 6,13.4 C2.6,13.4 0.6,11 0.6,6.8 C0.6,2.6 2.8,0.2 6,0.2 C9.4,0.2 11.4,2.8 11.4,7 L11.4,15.4 C11.4,19.6 9,21.8 5.8,21.8 C3.2,21.8 1.4,20.6 0.6,18.6" transform="translate(292.60,1339.00)" fill="none" stroke="#000" stroke-width="2.9" stroke-linecap="butt" stroke-linejoin="miter"/>
<rect x="397.7" y="1333.7" width="54.2" height="32.6" rx="14" ry="16.3" fill="#fff" stroke="#000" stroke-width="2.8"/>
<path d="M0,5.2 L3.6,0.3 L3.6,22" transform="translate(416.70,1339.00)" fill="none" stroke="#000" stroke-width="2.9" stroke-linecap="butt" stroke-linejoin="miter"/>
<path d="M0,5.2 L3.6,0.3 L3.6,22" transform="translate(427.90,1339.00)" fill="none" stroke="#000" stroke-width="2.9" stroke-linecap="butt" stroke-linejoin="miter"/>
<rect x="521.6999999999999" y="1333.7" width="54.2" height="32.6" rx="14" ry="16.3" fill="#fff" stroke="#000" stroke-width="2.8"/>
<path d="M0,5.2 L3.6,0.3 L3.6,22" transform="translate(537.25,1339.00)" fill="none" stroke="#000" stroke-width="2.9" stroke-linecap="butt" stroke-linejoin="miter"/>
<path d="M6,0.2 C9.6,0.2 11.4,3.4 11.4,11 C11.4,18.6 9.6,21.8 6,21.8 C2.4,21.8 0.6,18.6 0.6,11 C0.6,3.4 2.4,0.2 6,0.2 Z" transform="translate(548.35,1339.00)" fill="none" stroke="#000" stroke-width="2.9" stroke-linecap="butt" stroke-linejoin="miter"/>
<rect x="848.9" y="1333.7" width="54.2" height="32.6" rx="14" ry="16.3" fill="#fff" stroke="#000" stroke-width="2.8"/>
<path d="M0,5.2 L3.6,0.3 L3.6,22" transform="translate(864.45,1339.00)" fill="none" stroke="#000" stroke-width="2.9" stroke-linecap="butt" stroke-linejoin="miter"/>
<path d="M11.4,7.6 C11.4,11.4 9.2,13.4 6,13.4 C2.6,13.4 0.6,11 0.6,6.8 C0.6,2.6 2.8,0.2 6,0.2 C9.4,0.2 11.4,2.8 11.4,7 L11.4,15.4 C11.4,19.6 9,21.8 5.8,21.8 C3.2,21.8 1.4,20.6 0.6,18.6" transform="translate(875.55,1339.00)" fill="none" stroke="#000" stroke-width="2.9" stroke-linecap="butt" stroke-linejoin="miter"/>
<rect x="1027.9" y="1333.7" width="54.2" height="32.6" rx="14" ry="16.3" fill="#fff" stroke="#000" stroke-width="2.8"/>
<path d="M0,5.2 L3.6,0.3 L3.6,22" transform="translate(1043.45,1339.00)" fill="none" stroke="#000" stroke-width="2.9" stroke-linecap="butt" stroke-linejoin="miter"/>
<path d="M6,10.6 C2.8,10.6 1,8.8 1,5.4 C1,2.2 3,0.2 6,0.2 C9,0.2 11,2.2 11,5.4 C11,8.8 9.2,10.6 6,10.6 C2.4,10.6 0.4,13 0.4,16.2 C0.4,19.6 2.6,21.8 6,21.8 C9.4,21.8 11.6,19.6 11.6,16.2 C11.6,13 9.6,10.6 6,10.6 Z" transform="translate(1054.55,1339.00)" fill="none" stroke="#000" stroke-width="2.9" stroke-linecap="butt" stroke-linejoin="miter"/>
</svg></body></html>
